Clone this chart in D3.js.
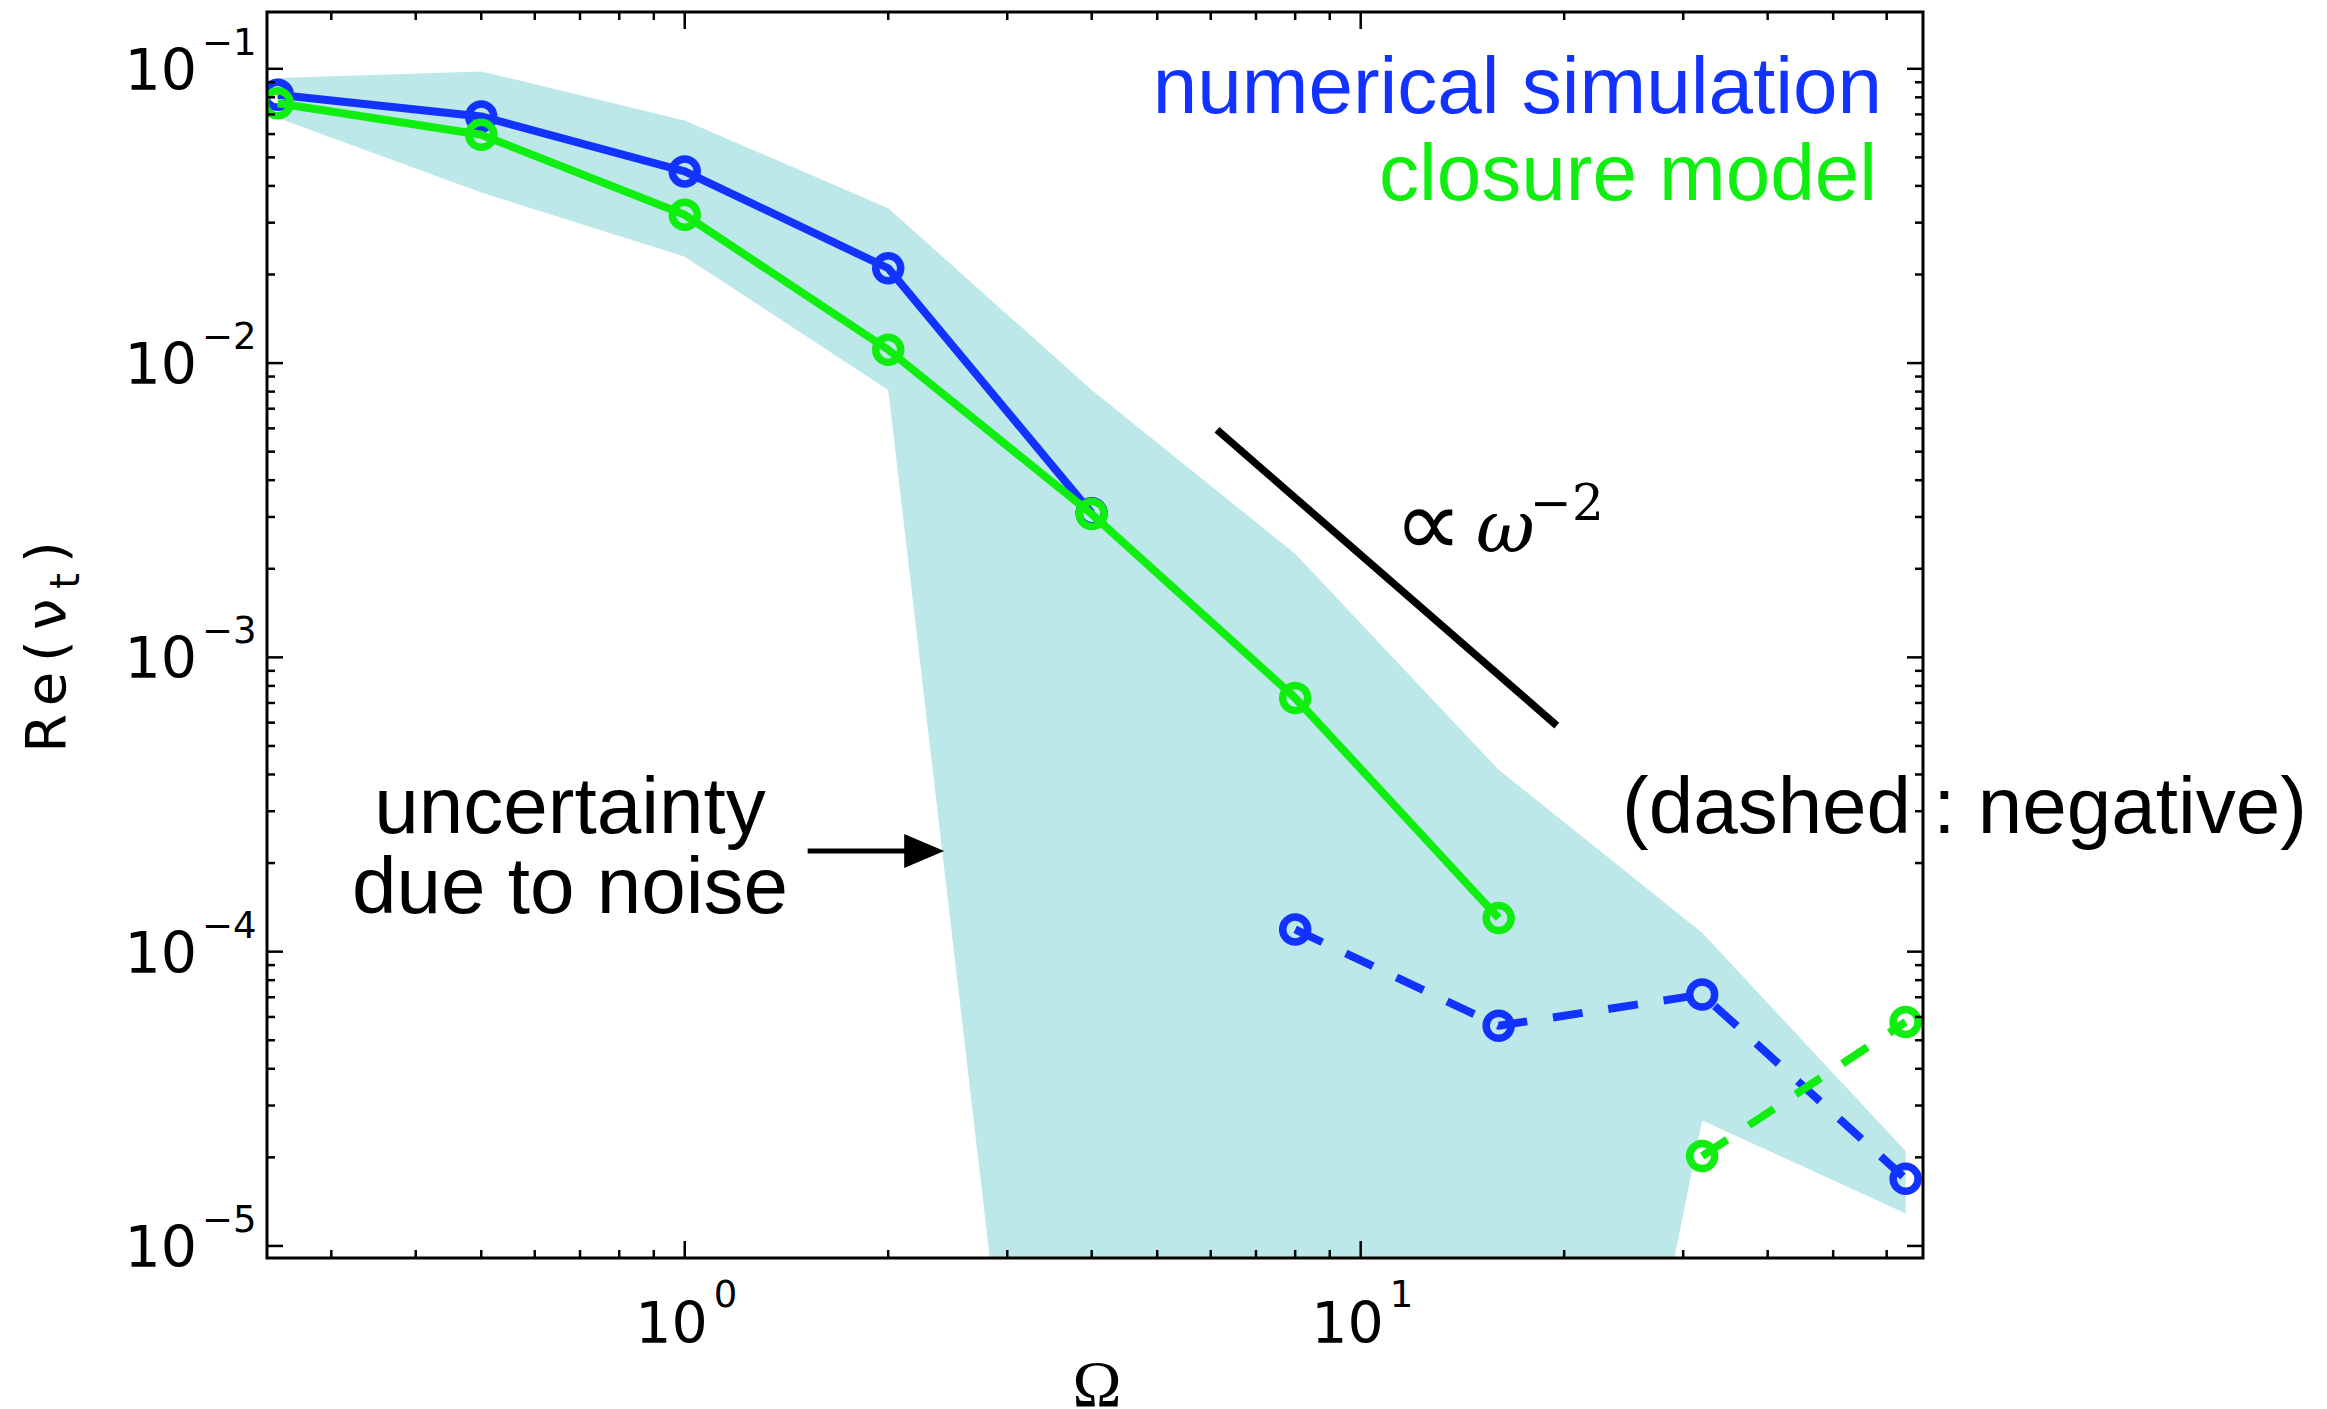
<!DOCTYPE html>
<html>
<head>
<meta charset="utf-8">
<script src="https://cdn.jsdelivr.net/npm/d3@7"></script>
<style>
body { margin: 0; background: #fff; }
svg { display: block; }
</style>
</head>
<body>
<div id="chart"></div>
<script>
// forcing frequencies
var omega = [0.25, 0.5, 1, 2, 4, 8, 16, 32, 64];

// numerical simulation : positive part (solid) and negative part (dashed, |Re|)
var simPosOmega = [0.25, 0.5, 1, 2, 4];
var simPos = [0.0816, 0.0689, 0.0448, 0.0210, 0.00309];
var simNegOmega = [8, 16, 32, 64];
var simNeg = [1.19e-4, 5.6e-5, 7.15e-5, 1.69e-5];

// closure model
var modPosOmega = [0.25, 0.5, 1, 2, 4, 8, 16];
var modPos = [0.0764, 0.0597, 0.0319, 0.0111, 0.00307, 7.28e-4, 1.3e-4];
var modNegOmega = [32, 64];
var modNeg = [2.02e-5, 5.77e-5];

// uncertainty due to noise (band)
var bandUpper = [0.093, 0.098, 0.0667, 0.0336, 8.1e-3, 2.25e-3, 4.15e-4, 1.16e-4, 2.1e-5];
var bandLower = [0.068, 0.038, 0.023, 8.1e-3, 1e-8, 1e-8, 1e-8, 2.67e-5, 1.29e-5];

// reference slope  ~ omega^-2
var slopeOmega = [6.13, 19.5];
var slopeCoef = 0.223;

// arrow pointing at the band
var arrowOmega = [1.52, 2.42];
var arrowValue = 2.2e-4;

var xTicks = [1, 10];
var xTickExp = ["0", "1"];
var yTicks = [1e-5, 1e-4, 1e-3, 1e-2, 1e-1];
var yTickExp = ["\u22125", "\u22124", "\u22123", "\u22122", "\u22121"];

var blue = "#1233ff";
var green = "#10ee10";
var bandColor = "#bde8e9";

var width = 2327, height = 1409;
var plotL = 267, plotR = 1923, plotT = 12, plotB = 1258;

var svg = d3.select("#chart")
    .append("svg")
    .attr("width", width)
    .attr("height", height);

var x = d3.scaleLog()
    .domain([0.241, 67.9])
    .range([plotL, plotR]);

var y = d3.scaleLog()
    .domain([Math.pow(10, -5.041), Math.pow(10, -0.807)])
    .range([plotB, plotT]);

svg.append("clipPath")
    .attr("id", "plotclip")
    .append("rect")
    .attr("x", plotL).attr("y", plotT)
    .attr("width", plotR - plotL).attr("height", plotB - plotT);

var plot = svg.append("g").attr("clip-path", "url(#plotclip)");

// band
var bandData = omega.map(function (w, i) { return [w, bandLower[i], bandUpper[i]]; });
plot.append("path")
    .datum(bandData)
    .attr("fill", bandColor)
    .attr("stroke", "none")
    .attr("d", d3.area()
        .x(d => x(d[0]))
        .y0(d => y(d[1]))
        .y1(d => y(d[2])));

var line = d3.line().x(d => x(d[0])).y(d => y(d[1]));

function series(ws, vals, color, dashed) {
    var pts = ws.map(function (w, i) { return [w, vals[i]]; });
    plot.append("path")
        .datum(pts)
        .attr("fill", "none")
        .attr("stroke", color)
        .attr("stroke-width", 8)
        .attr("stroke-linejoin", "round")
        .attr("stroke-dasharray", dashed ? "30,26" : null)
        .attr("d", line);
    plot.selectAll(null)
        .data(pts)
        .enter()
        .append("circle")
        .attr("cx", d => x(d[0]))
        .attr("cy", d => y(d[1]))
        .attr("r", 12.5)
        .attr("fill", "none")
        .attr("stroke", color)
        .attr("stroke-width", 7.5);
}

series(simPosOmega, simPos, blue, false);
series(simNegOmega, simNeg, blue, true);
series(modPosOmega, modPos, green, false);
series(modNegOmega, modNeg, green, true);

// omega^-2 line
plot.append("path")
    .datum(slopeOmega.map(w => [w, slopeCoef / (w * w)]))
    .attr("fill", "none")
    .attr("stroke", "#000")
    .attr("stroke-width", 7.5)
    .attr("d", line);

// axes: ticks pointing inward on all four sides
function ticksFor(domain) {
    var out = [];
    for (var e = -7; e <= 3; e++) {
        for (var m = 1; m <= 9; m++) {
            var v = m * Math.pow(10, e);
            if (v >= domain[0] && v <= domain[1]) out.push({v: v, major: m === 1});
        }
    }
    return out;
}

var xt = ticksFor(x.domain());
var yt = ticksFor(y.domain());
var axes = svg.append("g").attr("stroke", "#000").attr("stroke-width", 2.5);

axes.selectAll(".xb").data(xt).enter().append("line")
    .attr("x1", d => x(d.v)).attr("x2", d => x(d.v))
    .attr("y1", plotB).attr("y2", d => plotB - (d.major ? 17 : 8));
axes.selectAll(".xt").data(xt).enter().append("line")
    .attr("x1", d => x(d.v)).attr("x2", d => x(d.v))
    .attr("y1", plotT).attr("y2", d => plotT + (d.major ? 17 : 8));
axes.selectAll(".yl").data(yt).enter().append("line")
    .attr("y1", d => y(d.v)).attr("y2", d => y(d.v))
    .attr("x1", plotL).attr("x2", d => plotL + (d.major ? 16 : 8));
axes.selectAll(".yr").data(yt).enter().append("line")
    .attr("y1", d => y(d.v)).attr("y2", d => y(d.v))
    .attr("x1", plotR).attr("x2", d => plotR - (d.major ? 16 : 8));

svg.append("rect")
    .attr("x", plotL).attr("y", plotT)
    .attr("width", plotR - plotL).attr("height", plotB - plotT)
    .attr("fill", "none")
    .attr("stroke", "#000")
    .attr("stroke-width", 3);

// tick labels
var tickFont = "DejaVu Sans, sans-serif";
yTicks.forEach(function (v, i) {
    svg.append("text")
        .attr("x", 197).attr("y", y(v) + 21)
        .attr("text-anchor", "end")
        .attr("font-family", tickFont).attr("font-size", 57)
        .text("10");
    svg.append("text")
        .attr("x", 202).attr("y", y(v) - 14)
        .attr("font-family", tickFont).attr("font-size", 37)
        .text(yTickExp[i]);
});
xTicks.forEach(function (v, i) {
    svg.append("text")
        .attr("x", x(v) + 23).attr("y", 1343)
        .attr("text-anchor", "end")
        .attr("font-family", tickFont).attr("font-size", 57)
        .text("10");
    svg.append("text")
        .attr("x", x(v) + 29).attr("y", 1307)
        .attr("font-family", tickFont).attr("font-size", 37)
        .text(xTickExp[i]);
});

// axis labels
svg.append("text")
    .attr("x", 1097).attr("y", 1406)
    .attr("text-anchor", "middle")
    .attr("font-family", "Liberation Serif, serif").attr("font-size", 66)
    .text("\u03A9");

var ylab = svg.append("text")
    .attr("transform", "translate(65,642) rotate(-90)")
    .attr("text-anchor", "middle")
    .attr("font-family", tickFont).attr("font-size", 56)
    .attr("letter-spacing", 10);
ylab.append("tspan").text("Re(\u03BD");
ylab.append("tspan").attr("dy", 14).attr("font-size", 40).text("t");
ylab.append("tspan").attr("dy", -14).text(")");

// legend
var sans = "Liberation Sans, Arial, sans-serif";
svg.append("text")
    .attr("x", 1882).attr("y", 113)
    .attr("text-anchor", "end")
    .attr("font-family", sans).attr("font-size", 80)
    .attr("fill", blue)
    .text("numerical simulation");
svg.append("text")
    .attr("x", 1877).attr("y", 200)
    .attr("text-anchor", "end")
    .attr("font-family", sans).attr("font-size", 80)
    .attr("fill", green)
    .text("closure model");

// annotations
svg.append("text")
    .attr("x", 570).attr("y", 833)
    .attr("text-anchor", "middle")
    .attr("font-family", sans).attr("font-size", 80)
    .text("uncertainty");
svg.append("text")
    .attr("x", 570).attr("y", 913)
    .attr("text-anchor", "middle")
    .attr("font-family", sans).attr("font-size", 80)
    .text("due to noise");

svg.append("text")
    .attr("x", 1622).attr("y", 833)
    .attr("font-family", sans).attr("font-size", 80)
    .text("(dashed : negative)");

var ax0 = x(arrowOmega[0]), ax1 = x(arrowOmega[1]), ay = y(arrowValue);
svg.append("line")
    .attr("x1", ax0).attr("x2", ax1 - 36)
    .attr("y1", ay).attr("y2", ay)
    .attr("stroke", "#000").attr("stroke-width", 5);
svg.append("path")
    .attr("d", "M" + ax1 + "," + ay + "L" + (ax1 - 40) + "," + (ay - 17) + "L" + (ax1 - 40) + "," + (ay + 17) + "Z")
    .attr("fill", "#000");

svg.append("text")
    .attr("x", 1394).attr("y", 556)
    .attr("font-family", "DejaVu Sans, sans-serif").attr("font-weight", 200)
    .attr("font-size", 96)
    .text("\u221D");
svg.append("text")
    .attr("x", 1476).attr("y", 552)
    .attr("font-family", "DejaVu Serif, serif").attr("font-size", 72)
    .attr("font-style", "italic")
    .text("\u03C9");
svg.append("text")
    .attr("x", 1530).attr("y", 520)
    .attr("font-family", "DejaVu Serif, serif").attr("font-size", 50)
    .text("\u22122");
</script>
</body>
</html>
